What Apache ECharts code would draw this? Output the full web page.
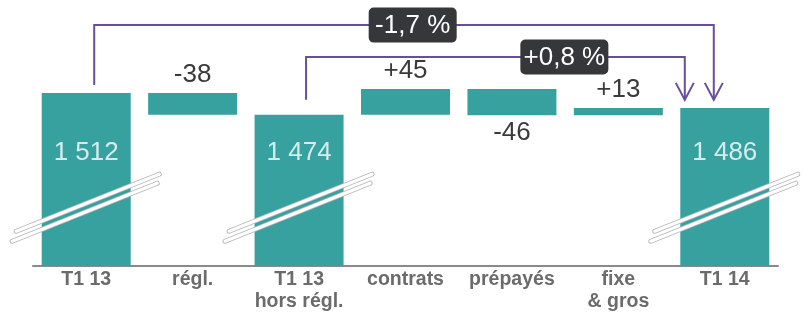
<!DOCTYPE html>
<html>
<head>
<meta charset="utf-8">
<script src="https://cdn.jsdelivr.net/npm/echarts@6/dist/echarts.min.js"></script>
<style>
  html, body { margin: 0; padding: 0; background: #fff; }
  #chart { width: 804px; height: 315px; }
</style>
</head>
<body>
<div id="chart"></div>
<script>
const categories = ['T1 13', 'régl.', 'T1 13\nhors régl.', 'contrats', 'prépayés', 'fixe\n& gros', 'T1 14']
const values = [1512, -38, 1474, 45, -46, 13, 1486]
const isTotal = [true, false, true, false, false, false, true]
const valueLabels = ['1 512', '-38', '1 474', '+45', '-46', '+13', '1 486']
const bracketFrom = [0, 2]
const bracketTo = [6, 6]
const bracketLabels = ['-1,7 %', '+0,8 %']
const bracketLevels = [1631, 1575]

const TEAL = '#36a19f'
const PURPLE = '#6a4d9c'
const FONT = '"Liberation Sans", Arial, sans-serif'

// waterfall -> invisible base + visible piece
let running = 0
const baseData = []
const barData = []
values.forEach((v, i) => {
  if (isTotal[i]) {
    running = v
    baseData.push(0)
    barData.push(v)
  } else {
    baseData.push(Math.min(running, running + v))
    barData.push(Math.abs(v))
    running += v
  }
})

const deltaLabelPos = { 1: 'top', 3: 'top', 4: 'bottom', 5: 'top' }
const visibleData = barData.map((v, i) => {
  if (isTotal[i]) return { value: v, label: { show: false } }
  return {
    value: v,
    label: { show: true, position: deltaLabelPos[i], distance: 5, formatter: valueLabels[i] }
  }
})

const totalIdx = values.map((v, i) => i).filter(i => isTotal[i])
const breakLevel = 1312
const totalLabelLevel = 1407

const chart = echarts.init(document.getElementById('chart'))
chart.setOption({
  animation: false,
  textStyle: { fontFamily: FONT },
  grid: { left: 33, right: 26, top: 0, bottom: 49 },
  xAxis: {
    type: 'category',
    data: categories,
    axisTick: { show: false },
    axisLine: { lineStyle: { color: '#8a8a8a', width: 2 } },
    axisLabel: {
      interval: 0,
      margin: 3,
      fontSize: 19.5,
      fontWeight: 'bold',
      color: '#6b6b6b',
      lineHeight: 22,
      fontFamily: FONT
    }
  },
  yAxis: { type: 'value', min: 1209, max: 1675, show: false, splitLine: { show: false } },
  series: [
    {
      type: 'bar',
      stack: 'w',
      barWidth: 89,
      itemStyle: { color: 'transparent' },
      emphasis: { disabled: true },
      data: baseData
    },
    {
      type: 'bar',
      stack: 'w',
      barWidth: 89,
      itemStyle: { color: TEAL },
      label: { fontSize: 26, color: '#3a3a3a', fontFamily: FONT },
      data: visibleData
    },
    {
      // total values written inside the big bars
      type: 'scatter',
      symbolSize: 0,
      z: 5,
      label: {
        show: true,
        position: 'inside',
        fontSize: 26,
        color: '#fff',
        fontFamily: FONT,
        formatter: p => valueLabels[p.value[0]]
      },
      data: totalIdx.map(i => [i, totalLabelLevel])
    },
    {
      // axis break marks across the big bars
      type: 'custom',
      z: 6,
      data: totalIdx.map(i => [i, breakLevel]),
      renderItem: (params, api) => {
        const p = api.coord([api.value(0), api.value(1)])
        const mk = (x1, y1, x2, y2) => [
          { type: 'line', shape: { x1: p[0] + x1, y1: p[1] + y1, x2: p[0] + x2, y2: p[1] + y2 }, style: { stroke: '#b8b8b8', lineWidth: 5, lineCap: 'round' } },
          { type: 'line', shape: { x1: p[0] + x1, y1: p[1] + y1, x2: p[0] + x2, y2: p[1] + y2 }, style: { stroke: '#fff', lineWidth: 3.2, lineCap: 'round' } }
        ]
        return { type: 'group', children: [...mk(-70, 24, 73, -33), ...mk(-74, 34, 71, -24)] }
      }
    },
    {
      // growth brackets with arrows
      type: 'custom',
      z: 7,
      data: bracketFrom.map((f, i) => [f, bracketLevels[i]]),
      renderItem: (params, api) => {
        const i = params.dataIndex
        const from = bracketFrom[i]
        const to = bracketTo[i]
        const startDx = [8, 7][i]
        const startGap = [8, 15][i]
        const endDx = [-11, -40][i]
        const boxAt = [0.514, 0.682][i]
        const a = api.coord([from, values[from]])
        const b = api.coord([to, values[to]])
        const y = api.coord([from, bracketLevels[i]])[1]
        const sx = a[0] + startDx
        const sy = a[1] - startGap
        const ex = b[0] + endDx
        const ey = b[1] - 8
        const bx = sx + (ex - sx) * boxAt
        const lineStyle = { stroke: PURPLE, lineWidth: 2, fill: null }
        return {
          type: 'group',
          children: [
            { type: 'polyline', shape: { points: [[sx, sy], [sx, y], [ex, y], [ex, ey]] }, style: lineStyle },
            { type: 'polyline', shape: { points: [[ex - 9, ey - 17], [ex, ey], [ex + 9, ey - 17]] }, style: lineStyle },
            { type: 'rect', shape: { x: bx - 44, y: y - 17.5, width: 88, height: 35, r: 5 }, style: { fill: '#35373a' } },
            {
              type: 'text',
              x: bx,
              y: y + 1,
              style: {
                text: bracketLabels[i],
                fill: '#fff',
                fontSize: 26,
                fontFamily: FONT,
                align: 'center',
                verticalAlign: 'middle'
              }
            }
          ]
        }
      }
    }
  ]
})
</script>
</body>
</html>
